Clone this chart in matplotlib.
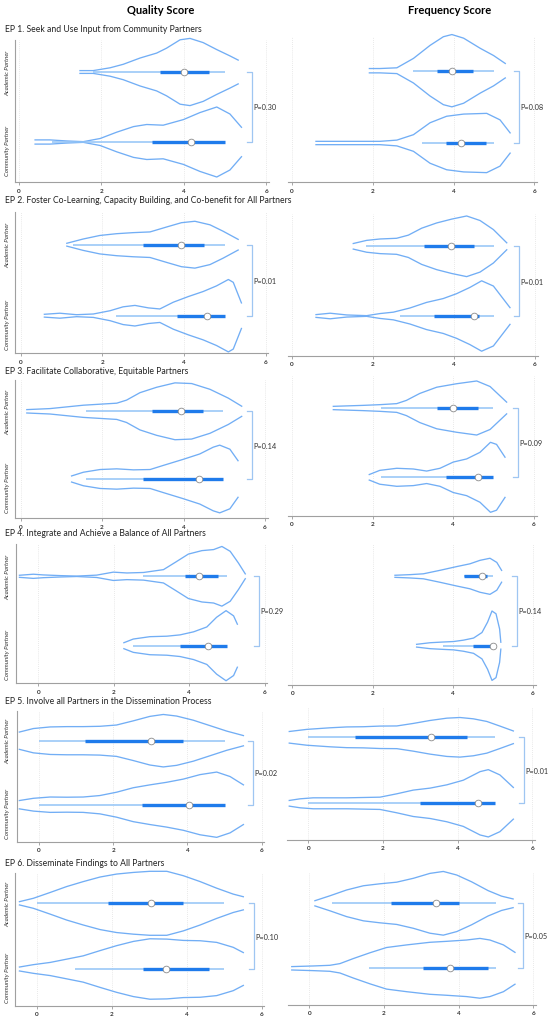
import matplotlib
matplotlib.use("Agg")
import matplotlib.pyplot as plt

plt.rcParams['font.family'] = ['Lato', 'DejaVu Sans']

# ---- data ----
titles = [
    "EP 1. Seek and Use Input from Community Partners",
    "EP 2. Foster Co-Learning, Capacity Building, and Co-benefit for All Partners",
    "EP 3. Facilitate Collaborative, Equitable Partners",
    "EP 4. Integrate and Achieve a Balance of All Partners",
    "EP 5. Involve all Partners in the Dissemination Process",
    "EP 6. Disseminate Findings to All Partners",
]
col_titles = ["Quality Score", "Frequency Score"]
group_labels = ["Academic Partner", "Community Partner"]
p_quality = [0.30, 0.01, 0.14, 0.29, 0.02, 0.10]
p_frequency = [0.08, 0.01, 0.09, 0.14, 0.01, 0.05]
ticks = [0, 2, 4, 6]

# violin outlines: score value and half width (community/academic centre gap = 1)
ep1_q_acad_x = [1.48, 1.80, 2.21, 2.53, 2.94, 3.34, 3.58, 3.91, 4.15, 4.47, 4.80, 5.12, 5.32]
ep1_q_acad_w = [0.02, 0.02, 0.06, 0.11, 0.20, 0.27, 0.34, 0.46, 0.48, 0.42, 0.32, 0.23, 0.17]
ep1_q_comm_x = [0.39, 0.75, 1.16, 1.56, 1.97, 2.37, 2.78, 3.10, 3.50, 3.99, 4.39, 4.80, 5.12, 5.40]
ep1_q_comm_w = [0.03, 0.03, 0.015, 0.005, 0.05, 0.14, 0.22, 0.25, 0.24, 0.32, 0.42, 0.50, 0.40, 0.21]
ep1_f_acad_x = [1.92, 2.18, 2.60, 3.01, 3.42, 3.75, 3.96, 4.25, 4.66, 4.99, 5.28]
ep1_f_acad_w = [0.03, 0.03, 0.04, 0.17, 0.35, 0.47, 0.50, 0.45, 0.31, 0.21, 0.10]
ep1_f_comm_x = [0.60, 1.36, 2.18, 2.60, 3.01, 3.42, 3.83, 4.25, 4.82, 5.15, 5.40]
ep1_f_comm_w = [0.023, 0.023, 0.023, 0.04, 0.115, 0.28, 0.37, 0.40, 0.41, 0.32, 0.14]

ep2_q_acad_x = [1.13, 1.53, 1.94, 2.35, 2.76, 3.17, 3.58, 3.94, 4.27, 4.64, 4.96, 5.33]
ep2_q_acad_w = [0.02, 0.08, 0.13, 0.155, 0.17, 0.18, 0.25, 0.31, 0.33, 0.28, 0.19, 0.075]
ep2_q_comm_x = [0.58, 0.96, 1.37, 1.78, 2.19, 2.51, 2.80, 3.13, 3.41, 3.74, 4.11, 4.47, 4.80, 5.09, 5.21, 5.41]
ep2_q_comm_w = [0.02, 0.035, 0.014, 0.024, 0.07, 0.125, 0.145, 0.11, 0.095, 0.19, 0.27, 0.34, 0.42, 0.51, 0.47, 0.18]
ep2_f_acad_x = [1.52, 1.85, 2.18, 2.59, 2.88, 3.21, 3.58, 3.95, 4.32, 4.65, 4.98, 5.31]
ep2_f_acad_w = [0.04, 0.085, 0.105, 0.115, 0.16, 0.26, 0.335, 0.39, 0.435, 0.37, 0.24, 0.05]
ep2_f_comm_x = [0.60, 0.95, 1.36, 1.85, 2.18, 2.51, 2.92, 3.33, 3.74, 4.07, 4.40, 4.69, 4.98, 5.39]
ep2_f_comm_w = [0.02, 0.04, 0.015, 0.005, 0.035, 0.055, 0.115, 0.195, 0.25, 0.32, 0.41, 0.505, 0.43, 0.12]

ep3_q_acad_x = [0.15, 0.72, 1.13, 1.54, 1.95, 2.36, 2.60, 2.93, 3.34, 3.79, 4.20, 4.65, 5.10, 5.43]
ep3_q_acad_w = [0.025, 0.04, 0.065, 0.09, 0.105, 0.12, 0.165, 0.275, 0.355, 0.42, 0.41, 0.325, 0.195, 0.075]
ep3_q_comm_x = [1.25, 1.54, 1.95, 2.36, 2.77, 3.18, 3.50, 3.99, 4.40, 4.73, 4.89, 5.14, 5.34]
ep3_q_comm_w = [0.045, 0.10, 0.14, 0.15, 0.135, 0.14, 0.20, 0.29, 0.37, 0.47, 0.50, 0.44, 0.27]
ep3_f_acad_x = [1.03, 1.77, 2.18, 2.60, 2.84, 3.17, 3.59, 4.08, 4.58, 4.91, 5.32]
ep3_f_acad_w = [0.024, 0.038, 0.048, 0.063, 0.11, 0.21, 0.30, 0.35, 0.39, 0.31, 0.085]
ep3_f_comm_x = [1.92, 2.18, 2.60, 3.01, 3.34, 3.67, 4.00, 4.33, 4.66, 4.92, 5.07, 5.28]
ep3_f_comm_w = [0.04, 0.10, 0.13, 0.12, 0.09, 0.13, 0.22, 0.265, 0.36, 0.505, 0.475, 0.29]

ep4_q_acad_x = [-0.50, -0.13, 0.13, 0.58, 1.02, 1.55, 1.99, 2.35, 2.79, 3.32, 3.63, 3.98, 4.34, 4.65, 4.87, 5.09, 5.31, 5.49]
ep4_q_acad_w = [0.015, 0.03, 0.02, 0.01, 0.003, 0.017, 0.06, 0.048, 0.055, 0.096, 0.20, 0.32, 0.37, 0.385, 0.43, 0.36, 0.19, 0.035]
ep4_q_comm_x = [2.27, 2.52, 2.96, 3.41, 3.76, 4.12, 4.47, 4.73, 4.98, 5.18, 5.28]
ep4_q_comm_w = [0.043, 0.096, 0.13, 0.137, 0.156, 0.20, 0.27, 0.41, 0.505, 0.43, 0.31]
ep4_f_acad_x = [2.56, 2.94, 3.27, 3.69, 4.10, 4.43, 4.68, 4.93, 5.10, 5.22]
ep4_f_acad_w = [0.015, 0.024, 0.036, 0.087, 0.14, 0.18, 0.23, 0.26, 0.20, 0.085]
ep4_f_comm_x = [3.10, 3.44, 3.76, 4.02, 4.27, 4.52, 4.73, 4.87, 4.98, 5.08, 5.17, 5.20]
ep4_f_comm_w = [0.02, 0.043, 0.053, 0.06, 0.08, 0.11, 0.19, 0.34, 0.50, 0.46, 0.24, 0.05]

ep5_q_acad_x = [-0.53, -0.15, 0.30, 0.75, 1.19, 1.64, 2.09, 2.54, 2.99, 3.35, 3.71, 4.16, 4.61, 5.06, 5.51]
ep5_q_acad_w = [0.135, 0.19, 0.215, 0.22, 0.22, 0.225, 0.245, 0.31, 0.38, 0.41, 0.385, 0.32, 0.235, 0.15, 0.08]
ep5_q_comm_x = [-0.53, -0.15, 0.30, 0.75, 1.19, 1.64, 2.09, 2.54, 2.99, 3.44, 3.89, 4.34, 4.79, 5.15, 5.51]
ep5_q_comm_w = [0.065, 0.10, 0.12, 0.117, 0.12, 0.143, 0.195, 0.265, 0.31, 0.35, 0.40, 0.47, 0.51, 0.44, 0.31]
ep5_f_acad_x = [-0.51, -0.04, 0.58, 1.03, 1.47, 1.92, 2.37, 2.81, 3.26, 3.71, 4.06, 4.42, 4.78, 5.13, 5.49]
ep5_f_acad_w = [0.088, 0.12, 0.144, 0.157, 0.16, 0.17, 0.172, 0.21, 0.255, 0.29, 0.30, 0.28, 0.24, 0.17, 0.096]
ep5_f_comm_x = [-0.51, -0.22, 0.13, 1.03, 1.92, 2.37, 2.81, 3.26, 3.71, 4.15, 4.60, 4.82, 5.13, 5.49]
ep5_f_comm_w = [0.043, 0.068, 0.083, 0.083, 0.093, 0.144, 0.20, 0.23, 0.28, 0.35, 0.48, 0.51, 0.43, 0.24]

ep6_q_acad_x = [-0.46, -0.09, 0.36, 0.80, 1.24, 1.69, 2.13, 2.58, 3.02, 3.47, 3.91, 4.36, 4.80, 5.24, 5.51]
ep6_q_acad_w = [0.025, 0.076, 0.165, 0.255, 0.33, 0.40, 0.445, 0.47, 0.487, 0.487, 0.42, 0.33, 0.23, 0.14, 0.10]
ep6_q_comm_x = [-0.46, -0.09, 0.36, 0.80, 1.24, 1.69, 2.13, 2.58, 3.02, 3.47, 3.91, 4.36, 4.80, 5.24, 5.51]
ep6_q_comm_w = [0.03, 0.066, 0.10, 0.15, 0.20, 0.28, 0.355, 0.42, 0.46, 0.455, 0.435, 0.43, 0.405, 0.33, 0.25]
ep6_f_acad_x = [0.15, 0.55, 1.00, 1.45, 1.89, 2.34, 2.79, 3.23, 3.59, 3.95, 4.35, 4.79, 5.15, 5.46]
ep6_f_acad_w = [0.04, 0.115, 0.205, 0.27, 0.30, 0.325, 0.385, 0.46, 0.49, 0.435, 0.33, 0.195, 0.11, 0.067]
ep6_f_comm_x = [-0.47, 0.11, 0.55, 0.82, 1.18, 1.63, 2.07, 2.61, 3.23, 3.68, 4.21, 4.57, 4.84, 5.20, 5.51]
ep6_f_comm_w = [0.026, 0.036, 0.046, 0.072, 0.15, 0.24, 0.32, 0.36, 0.40, 0.415, 0.435, 0.46, 0.435, 0.36, 0.245]

# box stats: [whisker low, q1, median, q3, whisker high]
ep1_q_acad_box = [1.80, 3.42, 4.00, 4.60, 5.00]
ep1_q_comm_box = [0.79, 3.22, 4.17, 5.00, 5.00]
ep1_f_acad_box = [3.01, 3.60, 3.97, 4.49, 4.99]
ep1_f_comm_box = [3.22, 3.82, 4.19, 4.80, 4.99]
ep2_q_acad_box = [1.29, 3.00, 3.92, 4.49, 5.00]
ep2_q_comm_box = [2.33, 3.84, 4.56, 5.00, 5.00]
ep2_f_acad_box = [1.84, 3.27, 3.93, 4.50, 5.00]
ep2_f_comm_box = [2.67, 3.51, 4.50, 4.63, 5.00]
ep3_q_acad_box = [1.60, 3.22, 3.95, 4.48, 4.98]
ep3_q_comm_box = [1.60, 3.01, 4.38, 4.98, 4.98]
ep3_f_acad_box = [2.20, 3.60, 4.00, 4.62, 4.99]
ep3_f_comm_box = [2.20, 3.81, 4.60, 4.99, 4.99]
ep4_q_acad_box = [2.79, 3.89, 4.27, 4.76, 5.00]
ep4_q_comm_box = [2.52, 3.76, 4.50, 5.00, 5.00]
ep4_f_acad_box = [4.27, 4.27, 4.73, 4.85, 5.00]
ep4_f_comm_box = [3.77, 4.50, 5.00, 5.00, 5.00]
ep5_q_acad_box = [0.00, 1.24, 3.02, 3.87, 5.00]
ep5_q_comm_box = [0.00, 2.77, 4.03, 5.00, 5.00]
ep5_f_acad_box = [0.00, 1.25, 3.28, 4.24, 5.00]
ep5_f_comm_box = [0.00, 2.99, 4.54, 5.00, 5.00]
ep6_q_acad_box = [0.00, 1.91, 3.04, 3.91, 5.00]
ep6_q_comm_box = [1.02, 2.83, 3.44, 4.60, 5.00]
ep6_f_acad_box = [0.60, 2.20, 3.39, 4.00, 5.00]
ep6_f_comm_box = [1.61, 3.04, 3.77, 4.79, 5.00]

g = globals()

# ---- layout (pixels in a 554x1020 canvas) ----
# row, col, px of x=0, px per unit, x min, spine y, academic y, community y, bracket x
layout = [
    (0, 0, 19.0, 41.2, -0.10, 183.0, 73.0, 143.0, 252),
    (0, 1, 291.7, 40.45, -0.10, 183.0, 71.7, 144.0, 519),
    (1, 0, 20.7, 40.8, -0.14, 354.0, 245.7, 316.7, 252),
    (1, 1, 291.7, 40.5, -0.10, 356.7, 247.3, 317.0, 519),
    (2, 0, 20.7, 40.7, -0.14, 519.0, 412.3, 480.0, 252),
    (2, 1, 291.7, 40.4, -0.10, 516.7, 409.0, 478.3, 518),
    (3, 0, 38.3, 37.7, -0.60, 684.3, 577.3, 646.7, 259),
    (3, 1, 292.3, 40.1, -0.10, 685.7, 577.3, 646.7, 517),
    (4, 0, 39.0, 37.1, -0.60, 842.7, 741.7, 805.7, 253),
    (4, 1, 308.3, 37.35, -0.57, 840.7, 738.3, 804.3, 524),
    (5, 0, 36.7, 37.5, -0.58, 1006.7, 904.3, 970.0, 254),
    (5, 1, 309.3, 37.33, -0.57, 1005.7, 904.3, 969.3, 523),
]
title_y = [30, 200.7, 372, 534, 701.7, 864]

W, H = 554, 1020
fig = plt.figure(figsize=(W / 100, H / 100), dpi=100)

outline_c = '#72aef5'
whisk_c = '#92c3f7'
box_c = '#1f7beb'
brack_c = '#9fc6f2'
XMAX = 6.07
TOPF = 0.46

for row, col, x0, ppu, xlo, ybot, yac, yco, bx in layout:
    sp = yco - yac
    ytop = yac - TOPF * sp
    left = x0 + xlo * ppu
    width = (XMAX - xlo) * ppu
    ax = fig.add_axes([left / W, 1 - ybot / H, width / W, (ybot - ytop) / H])
    ax.set_xlim(xlo, XMAX)
    ax.set_ylim(-(ybot - yco) / sp, 1 + TOPF)
    ax.patch.set_alpha(0)

    for t in ticks:
        ax.axvline(t, color='#e2e2e2', lw=0.6, ls=(0, (1, 1.5)), zorder=0)

    sc = 'q' if col == 0 else 'f'
    for grp, yc in (('acad', 1.0), ('comm', 0.0)):
        key = f"ep{row + 1}_{sc}_{grp}"
        xs = g[key + '_x']
        ws = g[key + '_w']
        ax.plot(xs, [yc + w for w in ws], color=outline_c, lw=0.95, clip_on=False,
                solid_joinstyle='round')
        ax.plot(xs, [yc - w for w in ws], color=outline_c, lw=0.95, clip_on=False,
                solid_joinstyle='round')
        lo, q1, med, q3, hi = g[key + '_box']
        ax.plot([lo, hi], [yc, yc], color=whisk_c, lw=1.1, solid_capstyle='butt')
        ax.plot([q1, q3], [yc, yc], color=box_c, lw=2.4, solid_capstyle='butt')
        ax.plot([med], [yc], 'o', ms=4.8, mfc='white', mec='#8a8a8a', mew=0.6, zorder=5)

    # p-value bracket
    xb = (bx - x0) / ppu
    dx = 5.5 / ppu
    ax.plot([xb - dx, xb, xb, xb - dx], [1, 1, 0, 0], color=brack_c, lw=0.9, clip_on=False)
    pv = p_quality[row] if col == 0 else p_frequency[row]
    ax.text(xb + 1.5 / ppu, 0.5, f"P={pv:.2f}", fontsize=5.3, va='center', ha='left',
            color='#333333')

    ax.set_xticks(ticks)
    ax.set_xticklabels([str(t) for t in ticks], fontsize=4.6, color='#333333',
                       fontweight='bold')
    ax.tick_params(axis='x', length=2.5, width=0.6, color='#999999', pad=1.5)
    ax.set_yticks([])
    for s in ('top', 'right'):
        ax.spines[s].set_visible(False)
    ax.spines['bottom'].set_color('#a0a0a0')
    ax.spines['bottom'].set_linewidth(0.8)
    if col == 0:
        ax.spines['left'].set_color('#a0a0a0')
        ax.spines['left'].set_linewidth(0.8)
        for lab, yc in zip(group_labels, (yac, yco + 8)):
            fig.text(7.5 / W, 1 - yc / H, lab, rotation=90, fontsize=4.4, style='italic',
                     ha='center', va='center', color='#333333')
    else:
        ax.spines['left'].set_visible(False)

for i, t in enumerate(titles):
    fig.text(5 / W, 1 - title_y[i] / H, t, fontsize=6.25, ha='left', va='center', color='#222222')

fig.text(161 / W, 1 - 10 / H, col_titles[0], fontsize=8, fontweight='bold', ha='center', va='center')
fig.text(450 / W, 1 - 10 / H, col_titles[1], fontsize=8, fontweight='bold', ha='center', va='center')

fig.savefig('out.png', dpi=100)
